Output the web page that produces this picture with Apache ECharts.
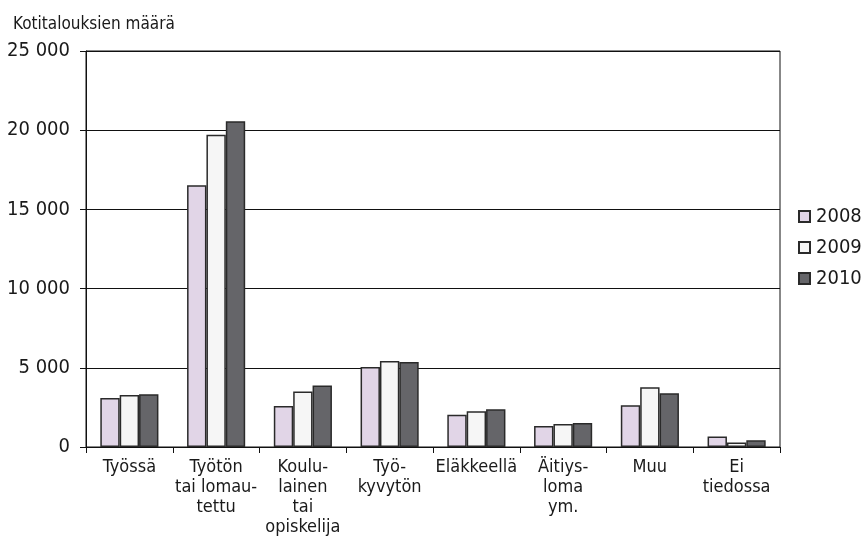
<!DOCTYPE html>
<html>
<head>
<meta charset="utf-8">
<script src="https://cdn.jsdelivr.net/npm/echarts@6/dist/echarts.min.js"></script>
<style>
  html, body { margin: 0; padding: 0; background: #fff; }
  #chart { width: 868px; height: 549px; }
</style>
</head>
<body>
<div id="chart"></div>
<script>
// Households by main activity of the reference person
const categories = [
  'Työssä',
  'Työtön\ntai lomau-\ntettu',
  'Koulu-\nlainen\ntai\nopiskelija',
  'Työ-\nkyvytön',
  'Eläkkeellä',
  'Äitiys-\nloma\nym.',
  'Muu',
  'Ei\ntiedossa'
];
const years = ['2008', '2009', '2010'];
const values2008 = [3090, 16530, 2590, 5050, 2040, 1320, 2630, 670];
const values2009 = [3280, 19710, 3510, 5430, 2250, 1450, 3770, 290];
const values2010 = [3330, 20570, 3890, 5360, 2380, 1510, 3390, 420];
const yTicks = [0, 5000, 10000, 15000, 20000, 25000];

const FONT = '"DejaVu Sans Condensed", "Liberation Sans", sans-serif';
const colors = ['#e1d5e7', '#f6f6f6', '#656569'];

const chart = echarts.init(document.getElementById('chart'), null, { renderer: 'canvas' });

const seriesData = [values2008, values2009, values2010];

chart.setOption({
  animation: false,
  backgroundColor: '#ffffff',
  textStyle: { fontFamily: FONT, color: '#1a1a1a' },
  title: {
    text: 'Kotitalouksien määrä',
    left: 8,
    top: 11,
    textStyle: { fontFamily: FONT, fontSize: 17, fontWeight: 'normal', color: '#1a1a1a' }
  },
  grid: {
    left: 86, right: 88, top: 51, bottom: 102,
    show: true, borderColor: '#111', borderWidth: 1
  },
  legend: {
    orient: 'vertical',
    left: 793,
    top: 200,
    itemWidth: 11,
    itemHeight: 11,
    itemGap: 8,
    icon: 'rect',
    data: years,
    textStyle: { fontFamily: FONT, fontSize: 20, lineHeight: 23, color: '#1a1a1a', padding: [0, 0, 0, 1] }
  },
  xAxis: {
    type: 'category',
    data: categories,
    axisLine: { lineStyle: { color: '#111', width: 1 } },
    axisTick: { show: true, length: 6, lineStyle: { color: '#111' } },
    axisLabel: {
      interval: 0,
      margin: 10,
      fontFamily: FONT,
      fontSize: 18,
      lineHeight: 20,
      color: '#1a1a1a'
    }
  },
  yAxis: {
    type: 'value',
    min: yTicks[0],
    max: yTicks[yTicks.length - 1],
    interval: 5000,
    axisLine: { show: true, lineStyle: { color: '#111', width: 1 } },
    axisTick: { show: true, length: 6, lineStyle: { color: '#111' } },
    splitLine: { show: true, lineStyle: { color: '#111', width: 1 } },
    axisLabel: {
      margin: 16,
      fontFamily: FONT,
      fontSize: 20,
      color: '#1a1a1a',
      formatter: v => String(v).replace(/\B(?=(\d{3})+(?!\d))/g, ' ')
    }
  },
  series: years.map((y, i) => ({
    name: y,
    type: 'bar',
    data: seriesData[i],
    barGap: '0%',
    barCategoryGap: '33%',
    itemStyle: { color: colors[i], borderColor: '#2a2a2a', borderWidth: 1.5 }
  }))
});
</script>
</body>
</html>
